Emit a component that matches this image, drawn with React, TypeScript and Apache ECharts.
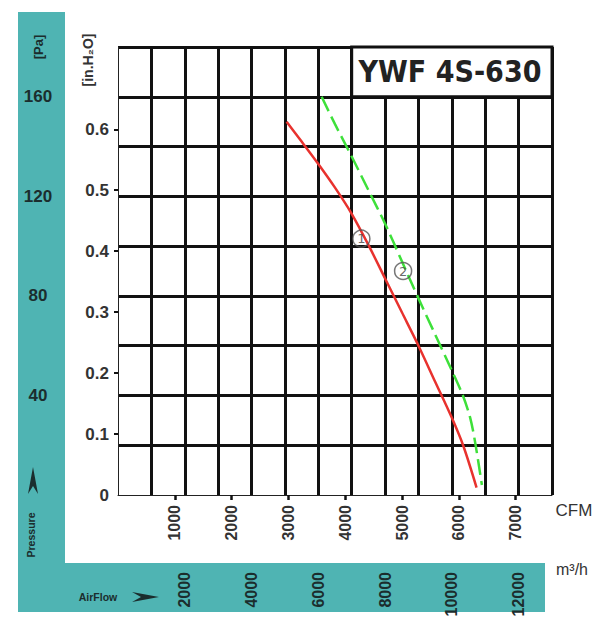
import { useEffect, useRef } from "react";
import * as echarts from "echarts";

// ---- data ----
// airflow in m³/h, static pressure in Pa
const curve1Flow = [5050, 5500, 6000, 6500, 7000, 7500, 8000, 8500, 9000, 9500, 10000, 10350, 10740];
const curve1Pa = [150, 142, 133, 123.5, 113, 100.5, 87, 73.5, 60, 45.5, 31, 19.5, 3];
const curve2Flow = [6100, 6500, 7000, 7500, 8000, 8500, 9000, 9500, 10000, 10330, 10550, 10700, 10900];
const curve2Pa = [160, 149, 136, 122.5, 109, 94, 79, 64.5, 50, 40, 31, 21, 4];
const markerFlow = [7290, 8540];
const markerPa = [103, 90];
const markerText = ["1", "2"];

const paLabels = [40, 80, 120, 160];
const inH2OLabels = [0, 0.1, 0.2, 0.3, 0.4, 0.5, 0.6];
const inH2OTicks = [0.1, 0.2, 0.3, 0.4, 0.5, 0.6];
const cfmLabels = [1000, 2000, 3000, 4000, 5000, 6000, 7000];
const m3hLabels = [2000, 4000, 6000, 8000, 10000, 12000];

const FLOW_MAX = 13000; // m³/h
const PA_MAX = 180;
const CFM_MAX = 7640;
const INH2O_MAX = 0.735;

const TITLE = "YWF 4S-630";
const SANS = "'Liberation Sans', Arial, sans-serif";
const COND = "'DejaVu Sans Condensed', 'DejaVu Sans', sans-serif";
const TEAL = "#4fb4b3";
const INK = "#1b2d2d";

export default function App() {
  const ref = useRef<HTMLDivElement>(null);
  useEffect(() => {
    document.body.style.margin = "0";
    if (!ref.current) return;
    const chart = echarts.init(ref.current, undefined, { renderer: "svg" });
    const pair = (xs: number[], ys: number[]) => xs.map((x, i) => [x, ys[i]]);
    const plain = (v: number) => String(v);
    chart.setOption({
      animation: false,
      backgroundColor: "#fff",
      grid: { left: 118, top: 47, right: 43, bottom: 140 },
      xAxis: [
        {
          type: "value",
          position: "bottom",
          min: 0,
          max: FLOW_MAX,
          interval: 1000,
          axisLine: { show: true, lineStyle: { color: "#222", width: 1 } },
          axisTick: { show: false },
          splitLine: { show: true, showMinLine: false, lineStyle: { color: "#111", width: 3 } },
          axisLabel: {
            customValues: m3hLabels,
            formatter: plain,
            rotate: 90,
            margin: 77,
            fontFamily: SANS,
            fontWeight: "bold",
            fontSize: 16,
            color: INK,
          },
        },
        {
          type: "value",
          position: "bottom",
          min: 0,
          max: CFM_MAX,
          axisLine: { show: false },
          axisTick: { show: true, customValues: cfmLabels, length: 5, lineStyle: { color: "#111", width: 2.5 } },
          splitLine: { show: false },
          axisLabel: {
            customValues: cfmLabels,
            formatter: plain,
            rotate: 90,
            margin: 10,
            fontFamily: SANS,
            fontWeight: "bold",
            fontSize: 16,
            color: "#333",
          },
        },
      ],
      yAxis: [
        {
          type: "value",
          position: "left",
          min: 0,
          max: PA_MAX,
          interval: 20,
          axisLine: { show: true, lineStyle: { color: "#222", width: 1 } },
          axisTick: { show: false },
          splitLine: { show: true, showMinLine: false, lineStyle: { color: "#111", width: 3 } },
          axisLabel: {
            customValues: paLabels,
            formatter: plain,
            align: "center",
            margin: 80,
            fontFamily: SANS,
            fontWeight: "bold",
            fontSize: 17,
            color: INK,
          },
        },
        {
          type: "value",
          position: "left",
          min: 0,
          max: INH2O_MAX,
          axisLine: { show: false },
          axisTick: { show: true, customValues: inH2OTicks, length: 4, lineStyle: { color: "#111", width: 2 } },
          splitLine: { show: false },
          axisLabel: {
            customValues: inH2OLabels,
            margin: 9,
            fontFamily: SANS,
            fontWeight: "bold",
            fontSize: 17,
            color: "#333",
            formatter: (v: number) => (v === 0 ? "0" : v.toFixed(1)),
          },
        },
      ],
      graphic: [
        { type: "rect", z: -10, shape: { x: 18, y: 12, width: 47, height: 600 }, style: { fill: TEAL } },
        { type: "rect", z: -10, shape: { x: 18, y: 563, width: 527, height: 49 }, style: { fill: TEAL } },
        {
          type: "text", z: 100, x: 38, y: 47, rotation: Math.PI / 2,
          style: { text: "[Pa]", align: "center", verticalAlign: "middle", fill: INK, font: `bold 13px ${SANS}` },
        },
        {
          type: "text", z: 100, x: 88, y: 60, rotation: Math.PI / 2,
          style: { text: "[in.H₂O]", align: "center", verticalAlign: "middle", fill: "#333", font: `bold 14px ${SANS}` },
        },
        {
          type: "text", z: 100, x: 31, y: 535, rotation: Math.PI / 2,
          style: { text: "Pressure", align: "center", verticalAlign: "middle", fill: INK, font: `bold 10.5px ${SANS}` },
        },
        {
          type: "polygon", z: 100,
          shape: { points: [[33, 467], [28, 494], [33, 486], [38, 494]] },
          style: { fill: INK },
        },
        {
          type: "text", z: 100, x: 98, y: 597,
          style: { text: "AirFlow", align: "center", verticalAlign: "middle", fill: INK, font: `bold 10.5px ${SANS}` },
        },
        {
          type: "polygon", z: 100,
          shape: { points: [[159, 597], [132, 592], [141, 597], [132, 602]] },
          style: { fill: INK },
        },
        {
          type: "text", z: 100, x: 574, y: 510,
          style: { text: "CFM", align: "center", verticalAlign: "middle", fill: "#333", font: `17px ${SANS}` },
        },
        {
          type: "text", z: 100, x: 572, y: 569,
          style: { text: "m³/h", align: "center", verticalAlign: "middle", fill: "#333", font: `16px ${SANS}` },
        },
        {
          type: "text", z: 100, x: 450, y: 71,
          style: { text: TITLE, align: "center", verticalAlign: "middle", fill: "#222", font: `bold 30px ${COND}` },
        },
      ],
      series: [
        {
          type: "line",
          name: "1",
          xAxisIndex: 0,
          yAxisIndex: 0,
          data: pair(curve1Flow, curve1Pa),
          smooth: 0.3,
          symbol: "none",
          lineStyle: { color: "#e8322e", width: 2.5 },
          markArea: {
            silent: true,
            itemStyle: { color: "#fff", borderColor: "#111", borderWidth: 3 },
            data: [[{ xAxis: 7000, yAxis: 160 }, { xAxis: FLOW_MAX, yAxis: PA_MAX }]],
          },
        },
        {
          type: "line",
          name: "2",
          xAxisIndex: 0,
          yAxisIndex: 0,
          data: pair(curve2Flow, curve2Pa),
          smooth: 0.3,
          symbol: "none",
          lineStyle: { color: "#3ee03a", width: 2.5, type: [16, 6] },
        },
        {
          type: "scatter",
          xAxisIndex: 0,
          yAxisIndex: 0,
          data: markerFlow.map((x, i) => [x, markerPa[i], markerText[i]]),
          symbol: "circle",
          symbolSize: 17,
          itemStyle: { color: "rgba(255,255,255,0)", borderColor: "#555", borderWidth: 1.5 },
          label: {
            show: true,
            position: "inside",
            formatter: (p: any) => p.value[2],
            color: "#444",
            fontSize: 13,
            fontFamily: "'DejaVu Sans', sans-serif",
          },
          z: 5,
        },
      ],
    });
    return () => chart.dispose();
  }, []);
  return <div ref={ref} style={{ width: 595, height: 635 }} />;
}
